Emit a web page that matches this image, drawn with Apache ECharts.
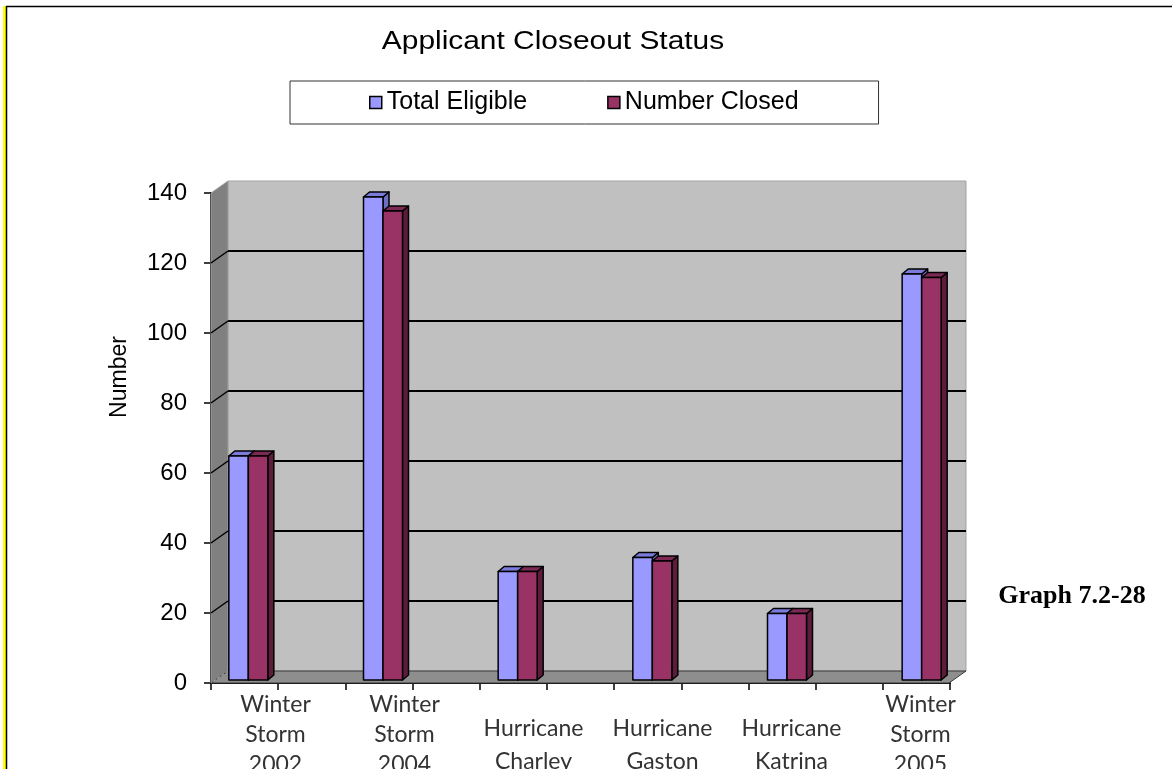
<!DOCTYPE html>
<html>
<head>
<meta charset="utf-8">
<title>Applicant Closeout Status</title>
<script src="https://cdn.jsdelivr.net/npm/echarts@6/dist/echarts.min.js"></script>
<style>
  html, body { margin: 0; padding: 0; background: #ffffff; }
  #chart { width: 1172px; height: 769px; }
</style>
</head>
<body>
<div id="chart"></div>
<script>
// ---- data ----
const categories = [
  'Winter Storm 2002', 'Winter Storm 2004', 'Hurricane Charley',
  'Hurricane Gaston', 'Hurricane Katrina', 'Winter Storm 2005'
];
const categoryLabels = [
  'Winter\nStorm\n2002', 'Winter\nStorm\n2004', 'Hurricane\nCharley',
  'Hurricane\nGaston', 'Hurricane\nKatrina', 'Winter\nStorm\n2005'
];
const seriesNames = ['Total Eligible', 'Number Closed'];
const totalEligible = [64, 138, 31, 35, 19, 116];
const numberClosed = [64, 134, 31, 34, 19, 115];
const yTicks = [0, 20, 40, 60, 80, 100, 120, 140];

// ---- look ----
const Y_MIN = yTicks[0];
const Y_MAX = yTicks[yTicks.length - 1];
const Y_STEP = yTicks[1] - yTicks[0];
const FRONT = { dx: -17, dy: 12 };      // shift from the back wall to the front axis plane
const BAR_W = 19.5;                     // width of one column face
const BAR_DEPTH = { dx: 6, dy: -5 };    // depth of the column boxes
const SANS = '"Liberation Sans", Arial, sans-serif';

const barColors = [
  { front: '#9999ff', top: '#7b7bdc', side: '#6d6dc4' },
  { front: '#993366', top: '#7c2a53', side: '#5e1c3c' }
];

// back wall, side wall, floor and the wall gridlines
function renderWalls(params, api) {
  const bl = api.coord([0, Y_MIN]);
  const br = api.coord([1, Y_MIN]);
  const tl = api.coord([0, Y_MAX]);
  const tr = api.coord([1, Y_MAX]);
  const fwd = (p) => [p[0] + FRONT.dx, p[1] + FRONT.dy];
  const children = [
    { type: 'rect', shape: { x: tl[0], y: tl[1], width: tr[0] - tl[0], height: bl[1] - tl[1] },
      style: { fill: '#c0c0c0', stroke: '#a3a3a3', lineWidth: 1 } },
    { type: 'polygon', shape: { points: [tl, bl, fwd(bl), fwd(tl)] },
      style: { fill: '#808080', stroke: '#a0a0a0', lineWidth: 1 } },
    { type: 'polygon', shape: { points: [bl, br, fwd(br), fwd(bl)] },
      style: { fill: '#8e8e8e', stroke: '#3a3a3a', lineWidth: 1 } },
    { type: 'line', shape: { x1: bl[0], y1: bl[1], x2: fwd(bl)[0], y2: fwd(bl)[1] },
      style: { stroke: '#b0b0b0', lineWidth: 1, lineDash: [3, 2] } }
  ];
  yTicks.forEach(function (v) {
    if (v === Y_MIN || v === Y_MAX) return;
    const a = api.coord([0, v]);
    const b = api.coord([1, v]);
    const f = fwd(a);
    children.push({ type: 'line', shape: { x1: a[0], y1: a[1], x2: b[0], y2: b[1] },
      style: { stroke: '#000000', lineWidth: 2 } });
    children.push({ type: 'line', shape: { x1: a[0], y1: a[1], x2: f[0], y2: f[1] },
      style: { stroke: '#000000', lineWidth: 1.5 } });
  });
  return { type: 'group', children: children };
}

// one column as a small box: front face, top and right side
function columnRenderer(slot, colors) {
  return function (params, api) {
    const idx = api.value(0);
    const base = api.coord([idx, 0]);
    const top = api.coord([idx, api.value(1)]);
    const x0 = base[0] - BAR_W + slot * BAR_W;
    const x1 = x0 + BAR_W;
    const yb = base[1];
    const yt = top[1];
    const dx = BAR_DEPTH.dx, dy = BAR_DEPTH.dy;
    const edge = { stroke: '#000000', lineWidth: 1.5, lineJoin: 'round' };
    return {
      type: 'group',
      children: [
        { type: 'polygon', shape: { points: [[x1, yb], [x1 + dx, yb + dy], [x1 + dx, yt + dy], [x1, yt]] },
          style: Object.assign({ fill: colors.side }, edge) },
        { type: 'polygon', shape: { points: [[x0, yt], [x0 + dx, yt + dy], [x1 + dx, yt + dy], [x1, yt]] },
          style: Object.assign({ fill: colors.top }, edge) },
        { type: 'rect', shape: { x: x0, y: yt, width: BAR_W, height: yb - yt },
          style: Object.assign({ fill: colors.front }, edge) }
      ]
    };
  };
}

// two-line names start one row lower than the three-line ones
const labelData = categoryLabels.map(function (text) {
  const lines = text.split('\n').length;
  return lines < 3 ? { value: text, textStyle: { padding: [22, 0, 0, 0], lineHeight: 33 } } : text;
});

const gridBase = { outerBoundsMode: 'none', containLabel: false };

const chart = echarts.init(document.getElementById('chart'), null, { renderer: 'canvas' });

chart.setOption({
  backgroundColor: '#ffffff',
  animation: false,
  legend: {
    data: seriesNames,
    left: 290,
    top: 81,
    orient: 'horizontal',
    padding: [9, 80, 9, 79],
    itemGap: 80,
    itemWidth: 12,
    itemHeight: 12,
    icon: 'rect',
    borderColor: '#333333',
    borderWidth: 1,
    backgroundColor: '#ffffff',
    itemStyle: { borderColor: '#000000', borderWidth: 1.5 },
    textStyle: { fontFamily: SANS, fontSize: 25, color: '#000000' },
    selectedMode: false
  },
  grid: [
    Object.assign({ left: 228, right: 206, top: 181, bottom: 98 }, gridBase),   // back wall
    Object.assign({ left: 181, right: 183, top: 190, bottom: 89 }, gridBase),   // column plane
    Object.assign({ left: 211, right: 222, top: 193, bottom: 86 }, gridBase),   // front axes
    Object.assign({ left: 211, right: 187, top: 193, bottom: 86 }, gridBase)    // category labels
  ],
  xAxis: [
    { type: 'value', gridIndex: 0, min: 0, max: 1, show: false },
    { type: 'category', gridIndex: 1, data: categories, show: false },
    { type: 'value', gridIndex: 2, min: 0, max: 11, interval: 1,
      axisLine: { show: true, lineStyle: { color: '#000000', width: 2 } },
      axisTick: { show: true, length: 7, lineStyle: { color: '#000000', width: 1.5 } },
      axisLabel: { show: false }, splitLine: { show: false } },
    { type: 'category', gridIndex: 3, data: labelData,
      axisLine: { show: false }, axisTick: { show: false }, splitLine: { show: false },
      axisLabel: { interval: 0, margin: 7, fontFamily: 'Lato, "Open Sans", sans-serif', fontSize: 23,
        lineHeight: 30, color: '#333333', align: 'center' } }
  ],
  yAxis: [
    { type: 'value', gridIndex: 0, min: Y_MIN, max: Y_MAX, interval: Y_STEP, show: false },
    { type: 'value', gridIndex: 1, min: Y_MIN, max: Y_MAX, show: false },
    { type: 'value', gridIndex: 2, min: Y_MIN, max: Y_MAX, interval: Y_STEP,
      axisLine: { show: true, lineStyle: { color: '#000000', width: 2 } },
      axisTick: { show: true, length: 7, lineStyle: { color: '#000000', width: 1.5 } },
      axisLabel: { margin: 24, fontFamily: SANS, fontSize: 24, color: '#000000' },
      splitLine: { show: false } },
    { type: 'value', gridIndex: 3, min: Y_MIN, max: Y_MAX, show: false }
  ],
  series: [
    { name: 'walls', type: 'custom', xAxisIndex: 0, yAxisIndex: 0, silent: true, z: 1,
      data: [[0, 0]], renderItem: renderWalls },
    { name: seriesNames[0], type: 'custom', xAxisIndex: 1, yAxisIndex: 1, z: 2,
      itemStyle: { color: barColors[0].front },
      data: totalEligible.map(function (v, i) { return [i, v]; }),
      renderItem: columnRenderer(0, barColors[0]) },
    { name: seriesNames[1], type: 'custom', xAxisIndex: 1, yAxisIndex: 1, z: 3,
      itemStyle: { color: barColors[1].front },
      data: numberClosed.map(function (v, i) { return [i, v]; }),
      renderItem: columnRenderer(1, barColors[1]) }
  ],
  graphic: [
    { type: 'rect', left: 3, top: 6, shape: { width: 3, height: 763 }, style: { fill: '#ffff00' }, silent: true },
    { type: 'line', shape: { x1: 6, y1: 6.5, x2: 1172, y2: 6.5 }, style: { stroke: '#000000', lineWidth: 1.5 }, silent: true },
    { type: 'line', shape: { x1: 6.5, y1: 6, x2: 6.5, y2: 769 }, style: { stroke: '#000000', lineWidth: 1.5 }, silent: true },
    { type: 'text', x: 553, y: 42, scaleX: 1.15, silent: true,
      style: { text: 'Applicant Closeout Status', font: '26px ' + SANS, fill: '#000000',
        textAlign: 'center', textVerticalAlign: 'middle', align: 'center', verticalAlign: 'middle' } },
    { type: 'text', x: 120, y: 377, rotation: Math.PI / 2, silent: true,
      style: { text: 'Number', font: '23px ' + SANS, fill: '#000000',
        textAlign: 'center', textVerticalAlign: 'middle', align: 'center', verticalAlign: 'middle' } },
    { type: 'text', x: 1072, y: 596, silent: true,
      style: { text: 'Graph 7.2-28', font: 'bold 26px "Liberation Serif", "Times New Roman", serif', fill: '#000000',
        textAlign: 'center', textVerticalAlign: 'middle', align: 'center', verticalAlign: 'middle' } }
  ]
});
</script>
</body>
</html>
